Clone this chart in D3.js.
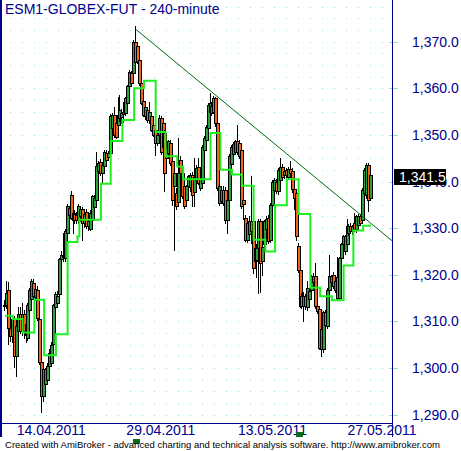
<!DOCTYPE html>
<html>
<head>
<meta charset="utf-8">
<script src="https://cdnjs.cloudflare.com/ajax/libs/d3/7.8.5/d3.min.js"></script>
<style>
  html, body { margin: 0; padding: 0; background: #fff; }
  svg { display: block; }
  text { font-family: Arial, "Liberation Sans", sans-serif; }
</style>
</head>
<body>
<div id="chart"></div>
<script>
// ESM1-GLOBEX-FUT, 240-minute bars as [open, high, low, close]
const bars = [
  [1313.5,1314.5,1312.5,1313.6],[1313.6,1318.6,1312.8,1316.1],[1316.7,1318.4,1305.1,1308.6],[1308.6,1309.5,1305.8,1306.8],
  [1306.8,1311.0,1305.5,1310.4],[1310.4,1311.2,1300.1,1302.5],[1302.5,1309.8,1298.3,1309.0],[1308.0,1313.0,1307.2,1311.5],
  [1311.5,1313.0,1307.5,1308.0],[1308.0,1314.0,1307.0,1311.5],[1311.5,1312.5,1306.5,1308.0],[1307.0,1310.0,1305.5,1309.5],
  [1306.5,1314.0,1306.0,1313.6],[1312.5,1317.2,1312.0,1316.8],[1314.7,1319.1,1314.2,1318.6],[1318.3,1319.0,1315.0,1315.4],
  [1315.2,1317.8,1314.5,1317.0],[1316.8,1317.5,1310.2,1310.8],[1310.4,1311.0,1300.8,1301.2],[1301.2,1302.5,1290.5,1294.0],
  [1294.0,1300.5,1293.0,1299.7],[1296.5,1300.0,1294.0,1299.7],[1297.5,1301.0,1296.5,1300.4],[1300.4,1304.0,1299.5,1303.3],
  [1301.0,1305.5,1300.5,1305.0],[1305.2,1313.8,1305.0,1313.6],[1313.0,1316.2,1312.5,1315.8],[1314.0,1316.5,1313.0,1315.5],
  [1315.8,1323.5,1315.0,1323.3],[1323.3,1325.0,1322.5,1324.3],[1324.0,1329.0,1323.0,1323.8],[1323.6,1329.8,1323.0,1329.3],
  [1329.0,1335.2,1328.5,1334.7],[1332.9,1334.8,1332.5,1334.4],[1337.0,1338.0,1332.0,1332.2],[1331.8,1333.8,1329.0,1333.3],
  [1333.0,1333.8,1331.2,1331.8],[1332.8,1333.5,1331.0,1331.8],[1331.8,1335.2,1331.0,1334.7],[1332.5,1334.5,1331.5,1334.0],
  [1334.0,1334.6,1327.5,1331.0],[1331.0,1333.5,1330.2,1333.0],[1333.4,1334.0,1330.0,1330.5],[1330.5,1332.0,1329.5,1331.5],
  [1329.7,1333.8,1329.5,1333.3],[1331.8,1337.2,1331.5,1336.9],[1334.5,1337.0,1334.0,1336.5],[1336.1,1346.3,1335.8,1343.4],
  [1342.2,1344.5,1341.8,1344.0],[1344.2,1344.8,1341.5,1341.8],[1341.8,1344.0,1340.0,1343.6],[1343.3,1346.8,1343.0,1346.4],
  [1346.1,1346.8,1344.3,1344.6],[1345.2,1346.5,1344.8,1346.1],[1346.1,1354.5,1345.8,1354.0],[1351.5,1354.6,1351.0,1354.3],
  [1354.3,1356.0,1349.5,1350.0],[1352.6,1353.2,1349.3,1349.6],[1352.2,1358.2,1351.8,1354.3],[1353.6,1358.6,1353.0,1355.4],
  [1353.9,1355.5,1352.5,1354.7],[1354.5,1357.0,1352.8,1354.9],[1354.7,1358.2,1354.2,1357.9],[1356.8,1360.8,1356.5,1360.4],
  [1360.4,1363.9,1360.0,1363.6],[1363.3,1363.8,1360.8,1361.1],[1363.3,1370.3,1363.0,1370.0],[1370.0,1373.4,1365.2,1365.7],
  [1369.0,1369.5,1365.5,1365.8],[1366.1,1367.0,1360.8,1361.1],[1361.1,1361.5,1356.6,1356.9],[1357.2,1357.8,1354.0,1354.3],
  [1354.0,1356.5,1353.5,1356.0],[1355.4,1356.0,1352.8,1353.2],[1353.2,1357.0,1352.5,1355.0],[1354.0,1354.5,1350.8,1351.1],
  [1352.2,1352.8,1349.7,1350.0],[1351.1,1351.6,1345.7,1348.2],[1348.2,1350.3,1347.8,1350.0],[1350.0,1354.2,1349.5,1353.6],
  [1353.6,1354.0,1346.0,1346.4],[1352.5,1353.0,1347.0,1347.3],[1350.4,1351.0,1337.9,1341.9],[1345.0,1347.6,1344.5,1347.2],
  [1346.1,1349.0,1345.8,1348.6],[1348.3,1349.0,1343.6,1344.0],[1344.3,1345.0,1335.0,1336.1],[1339.0,1342.2,1325.4,1341.8],
  [1337.6,1338.5,1334.0,1334.7],[1335.7,1349.4,1335.2,1341.9],[1344.7,1345.5,1341.5,1341.9],[1341.9,1342.5,1336.5,1336.8],
  [1339.0,1339.8,1334.3,1334.7],[1336.1,1339.2,1335.5,1339.0],[1339.0,1341.5,1338.5,1341.1],[1338.9,1341.8,1338.0,1341.5],
  [1341.5,1342.0,1334.7,1337.2],[1337.8,1345.0,1334.7,1341.0],[1340.4,1343.5,1339.8,1343.0],[1343.2,1345.0,1339.5,1339.7],
  [1338.6,1341.0,1338.2,1340.5],[1339.7,1347.8,1339.3,1347.5],[1346.8,1349.8,1346.3,1349.3],[1348.9,1352.2,1348.5,1351.8],
  [1351.5,1356.8,1351.0,1356.4],[1355.0,1358.9,1354.5,1356.8],[1354.8,1357.0,1354.2,1356.2],[1357.9,1358.4,1354.6,1355.0],
  [1357.9,1358.2,1352.0,1352.5],[1352.5,1353.0,1338.2,1338.6],[1335.4,1339.4,1335.0,1339.0],[1335.9,1338.7,1335.3,1338.2],
  [1338.2,1339.0,1335.0,1335.4],[1338.2,1338.8,1331.0,1331.8],[1331.8,1336.6,1329.0,1336.1],[1336.1,1345.8,1335.8,1345.4],
  [1343.8,1347.8,1343.3,1347.5],[1346.0,1348.5,1345.5,1348.0],[1346.4,1349.0,1346.0,1348.6],[1348.6,1352.2,1346.0,1346.4],
  [1348.3,1349.0,1345.0,1345.4],[1346.8,1347.3,1334.4,1334.7],[1336.0,1337.0,1332.0,1335.2],[1332.2,1332.8,1327.2,1327.5],
  [1327.5,1331.5,1327.0,1331.0],[1328.8,1332.5,1328.3,1331.5],[1331.5,1341.1,1326.8,1329.4],[1331.5,1332.0,1320.4,1321.5],
  [1322.9,1326.2,1322.5,1325.8],[1323.2,1326.5,1319.5,1325.8],[1325.8,1332.0,1316.1,1331.5],[1331.5,1332.0,1316.2,1322.6],
  [1322.9,1326.5,1320.0,1326.0],[1326.6,1331.8,1326.2,1331.5],[1329.7,1332.5,1329.2,1332.0],[1332.2,1332.8,1326.8,1327.2],
  [1327.5,1335.3,1327.0,1335.0],[1335.0,1340.3,1334.5,1340.0],[1338.1,1340.7,1337.5,1340.3],[1340.0,1340.5,1337.5,1337.9],
  [1337.9,1342.8,1337.4,1342.5],[1340.4,1345.0,1340.0,1343.2],[1343.2,1343.8,1340.6,1341.0],[1341.3,1342.8,1340.8,1342.3],
  [1342.5,1343.0,1341.0,1341.4],[1341.0,1343.2,1340.5,1342.6],[1342.6,1344.5,1341.5,1341.8],[1342.2,1343.0,1337.8,1338.3],
  [1338.3,1339.0,1334.0,1336.5],[1337.5,1338.0,1327.5,1328.3],[1326.1,1326.8,1320.5,1321.1],[1321.1,1321.6,1313.0,1313.3],
  [1315.5,1316.0,1312.8,1313.2],[1313.2,1316.2,1310.0,1315.4],[1315.4,1315.9,1312.7,1313.2],[1313.0,1318.6,1312.5,1317.2],
  [1314.7,1317.0,1314.2,1316.6],[1316.8,1320.0,1316.3,1319.7],[1318.4,1320.4,1318.0,1319.8],[1319.7,1322.5,1312.8,1313.2],
  [1313.2,1313.8,1311.8,1312.2],[1312.6,1313.0,1304.0,1304.3],[1304.0,1308.6,1302.6,1308.3],[1304.0,1312.3,1303.5,1311.9],
  [1311.9,1312.4,1309.0,1309.2],[1309.0,1317.2,1308.5,1316.8],[1316.8,1324.3,1316.2,1319.7],[1318.4,1320.0,1318.0,1319.8],
  [1320.0,1320.6,1317.2,1317.6],[1316.8,1319.0,1316.3,1318.6],[1319.4,1323.8,1314.8,1315.1],[1315.1,1323.9,1314.6,1323.6],
  [1323.6,1326.8,1323.2,1326.5],[1326.5,1328.6,1326.0,1328.3],[1325.0,1328.6,1324.5,1328.3],[1326.5,1332.0,1326.0,1330.4],
  [1329.0,1330.8,1328.5,1330.4],[1330.4,1331.0,1328.9,1329.3],[1329.3,1330.7,1328.8,1330.4],[1331.2,1333.3,1329.3,1329.7],
  [1329.7,1332.8,1329.2,1332.5],[1330.6,1333.0,1330.2,1332.5],[1332.5,1333.0,1331.0,1331.1],[1331.8,1338.5,1331.3,1338.2],
  [1337.5,1343.0,1337.0,1342.5],[1337.0,1344.0,1336.5,1343.6],[1343.6,1344.0,1333.6,1336.0],[1336.5,1343.0,1336.0,1341.5]
];

// green step line: [bar index where the level starts, level]
const stepLine = [
  [0,1311.2],[4,1310.5],[9,1307.6],[15,1314.6],[20,1302.7],[26,1307.2],[32,1327.0],[37,1328.2],
  [38,1331.8],[49,1339.5],[54,1348.7],[60,1353.2],[66,1360.0],[71,1361.6],[77,1350.6],[82,1345.4],
  [88,1343.2],[91,1340.5],[105,1350.4],[110,1342.5],[116,1341.5],[121,1339.1],[127,1327.5],[133,1325.0],
  [138,1334.9],[144,1340.5],[150,1333.0],[156,1317.2],[161,1315.4],[167,1314.5],[173,1322.0],[178,1329.5],
  [183,1330.5],[187,1330.5]
];

// trend line through the 29.04 high, [bar index, price]
const trendLine = [[67, 1372.6], [198, 1327.2]];

const priceTicks = [1290, 1300, 1310, 1320, 1330, 1340, 1350, 1360, 1370];
const dateTickBars = [6, 62, 119, 175];
const dateLabels = ["14.04.2011", "29.04.2011", "13.05.2011", "27.05.2011"];
const markerBars = [67, 150];

const title = "ESM1-GLOBEX-FUT - 240-minute";
const footer = "Created with AmiBroker - advanced charting and technical analysis software. http://www.amibroker.com";

const W = 461, H = 451;
const plot = { left: 1, right: 392, top: 0, bottom: 423 };
const axisBlue = "#00008b";
const gridCyan = "#95dede";

const x = d3.scaleLinear().domain([0, bars.length - 1]).range([5, 371]);
const y = d3.scaleLinear().domain([1290, 1370]).range([414.5, 41.7]);
const px = v => Math.round(v) + 0.5;

const svg = d3.select("#chart").append("svg")
    .attr("width", W)
    .attr("height", H);

svg.append("rect").attr("width", W).attr("height", H).attr("fill", "#fff");

svg.append("defs").append("clipPath").attr("id", "plotclip")
  .append("rect")
    .attr("x", plot.left + 1).attr("y", plot.top)
    .attr("width", plot.right - plot.left - 1).attr("height", plot.bottom - plot.top);

// dotted grid every 2.5 points
const gridLevels = d3.range(1287.5, 1380, 2.5).filter(v => y(v) > plot.top + 2 && y(v) < plot.bottom - 2);
svg.append("g")
  .selectAll("line").data(gridLevels).join("line")
    .attr("x1", 10).attr("x2", plot.right - 1)
    .attr("y1", d => px(y(d))).attr("y2", d => px(y(d)))
    .attr("stroke", gridCyan)
    .attr("stroke-dasharray", "1 11")
    .attr("shape-rendering", "crispEdges");

// tick marks across the price axis
svg.append("g")
  .selectAll("line").data(priceTicks).join("line")
    .attr("x1", plot.right - 3).attr("x2", plot.right + 6)
    .attr("y1", d => px(y(d))).attr("y2", d => px(y(d)))
    .attr("stroke", gridCyan)
    .attr("shape-rendering", "crispEdges");

const chart = svg.append("g").attr("clip-path", "url(#plotclip)");

// candles: black wick + outlined body, drawn bar after bar
const candle = chart.append("g").selectAll("g").data(bars).join("g");
candle.append("line")
    .attr("x1", (d, i) => Math.round(x(i)) - 0.5).attr("x2", (d, i) => Math.round(x(i)) - 0.5)
    .attr("y1", d => Math.round(y(d[1]))).attr("y2", d => Math.round(y(d[2])) + 1)
    .attr("stroke", "#000")
    .attr("shape-rendering", "crispEdges");
candle.append("rect")
    .attr("x", (d, i) => Math.round(x(i)) - 1.5)
    .attr("y", d => px(y(Math.max(d[0], d[3]))))
    .attr("width", 2.5)
    .attr("height", d => Math.max(1, Math.round(y(Math.min(d[0], d[3]))) - Math.round(y(Math.max(d[0], d[3])))))
    .attr("fill", d => d[3] >= d[0] ? "#2e9e3e" : "#f0641e")
    .attr("stroke", "#000")
    .attr("shape-rendering", "crispEdges");

// step line
chart.append("path")
    .datum(stepLine)
    .attr("fill", "none")
    .attr("stroke", "#1ef01e")
    .attr("stroke-width", 2)
    .attr("d", d3.line().x(d => x(d[0])).y(d => y(d[1])).curve(d3.curveStepAfter));

// trend line
chart.append("path")
    .datum(trendLine)
    .attr("fill", "none")
    .attr("stroke", "#006a10")
    .attr("stroke-width", 1)
    .attr("d", d3.line().x(d => x(d[0])).y(d => y(d[1])));

// frame
const frame = svg.append("g").attr("stroke", axisBlue).attr("shape-rendering", "crispEdges");
frame.append("line").attr("x1", 1).attr("x2", 1).attr("y1", 0).attr("y2", 437).attr("stroke-width", 2);
frame.append("line").attr("x1", plot.right + 0.5).attr("x2", plot.right + 0.5).attr("y1", 0).attr("y2", 437);
frame.append("line").attr("x1", 0).attr("x2", plot.right + 1).attr("y1", plot.bottom + 0.5).attr("y2", plot.bottom + 0.5);

// price labels
svg.append("g")
  .selectAll("text").data(priceTicks).join("text")
    .attr("x", 412)
    .attr("y", d => y(d) + 5)
    .attr("font-size", 14)
    .attr("fill", axisBlue)
    .text(d => d3.format(",.1f")(d));

// date labels start at the first bar of the day
svg.append("g")
  .selectAll("text").data(dateTickBars).join("text")
    .attr("x", d => x(d))
    .attr("y", 435)
    .attr("font-size", 14)
    .attr("fill", axisBlue)
    .text((d, i) => dateLabels[i]);

// last value tag (covers the 1,340.0 label as in the original)
const last = bars[bars.length - 1][3];
svg.append("rect")
    .attr("x", 394).attr("y", Math.round(y(last)) - 6)
    .attr("width", 52).attr("height", 16)
    .attr("fill", "#000");
svg.append("text")
    .attr("x", 399).attr("y", y(last) + 7)
    .attr("font-size", 14)
    .attr("fill", "#fff")
    .text(d3.format(",.1f")(last));

// small markers under the date axis
svg.append("g")
  .selectAll("rect").data(markerBars).join("rect")
    .attr("x", d => Math.round(x(d)) - 3)
    .attr("y", (d, i) => i === 0 ? 439 : 432)
    .attr("width", 7).attr("height", 5)
    .attr("fill", "#0d6a1d");

svg.append("text")
    .attr("x", 5).attr("y", 14)
    .attr("font-size", 14)
    .attr("fill", axisBlue)
    .text(title);

svg.append("text")
    .attr("x", 5).attr("y", 448)
    .attr("font-size", 9.5)
    .attr("textLength", 435)
    .attr("lengthAdjust", "spacingAndGlyphs")
    .attr("fill", "#000")
    .text(footer);
</script>
</body>
</html>
